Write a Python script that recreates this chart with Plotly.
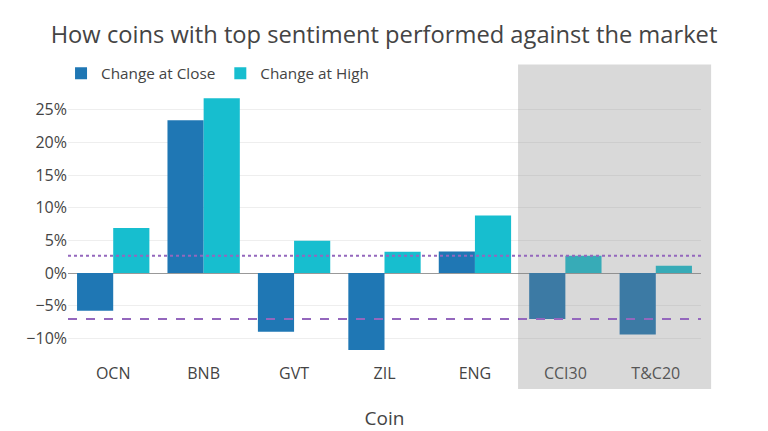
import plotly.graph_objects as go

coins = ["OCN", "BNB", "GVT", "ZIL", "ENG", "CCI30", "T&C20"]
change_close = [-5.8, 23.4, -9.0, -11.8, 3.3, -7.05, -9.4]
change_high = [6.9, 26.75, 4.95, 3.27, 8.8, 2.65, 1.12]
market_close = change_close[5]
market_high = change_high[5]

fig = go.Figure()
fig.add_trace(go.Bar(x=coins, y=change_close, name="Change at Close",
                     marker=dict(color="#1f77b4")))
fig.add_trace(go.Bar(x=coins, y=change_high, name="Change at High",
                     marker=dict(color="#17becf")))

fig.add_shape(type="rect", xref="paper", yref="paper", x0=0.711, x1=1.016,
              y0=-0.098, y1=1.078, fillcolor="#808080", opacity=0.3,
              line=dict(width=0), layer="above")
fig.add_shape(type="line", xref="paper", yref="y", x0=0, x1=1,
              y0=market_high, y1=market_high,
              line=dict(color="#9467bd", width=2, dash="dot"))
fig.add_shape(type="line", xref="paper", yref="y", x0=0, x1=1,
              y0=market_close, y1=market_close,
              line=dict(color="#9467bd", width=2, dash="dash"))

fig.update_layout(
    template="none",
    width=768, height=431,
    margin=dict(l=68, r=67, t=86, b=69),
    font=dict(family="Open Sans, verdana, arial, sans-serif", color="#444", size=16),
    title=dict(text="How coins with top sentiment performed against the market",
               x=0.5, xanchor="center", y=0.919, yanchor="middle",
               font=dict(size=23.7)),
    legend=dict(orientation="h", x=-0.011, xanchor="left", y=0.986, yanchor="bottom",
                font=dict(size=15.3)),
    barmode="group", bargap=0.2,
    xaxis=dict(title=dict(text="Coin", font=dict(size=19), standoff=32), showgrid=False,
               tickfont=dict(size=16)),
    yaxis=dict(range=[-13.63, 28.64], ticksuffix="%", dtick=5,
               tickfont=dict(size=16),
               gridcolor="#eee", zeroline=True, zerolinecolor="#999", zerolinewidth=1),
    showlegend=True,
)

fig.write_html("out.html", config={"displayModeBar": False},
               post_script="document.body.style.margin='0';document.body.style.overflow='hidden';")
